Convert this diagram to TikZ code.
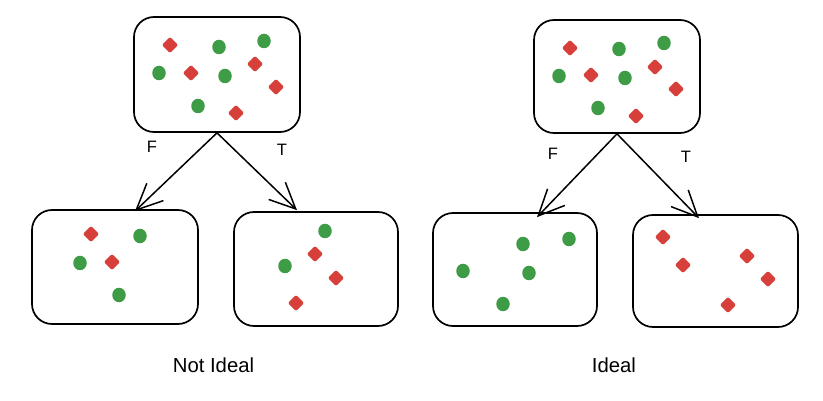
\documentclass[tikz,border=0pt]{standalone}
\usepackage{fontspec}
\setmainfont{Liberation Sans}
\usetikzlibrary{arrows.meta,shapes.geometric}
\definecolor{dotgreen}{HTML}{3F9C46}
\definecolor{dotred}{HTML}{D7403A}
\tikzset{
  box/.style={draw=black, line width=1.7pt, rounded corners=20pt, rectangle, fill=white},
  gdot/.style={ellipse, fill=dotgreen, minimum width=13.5pt, minimum height=14.5pt, inner sep=0pt},
  rdot/.style={diamond, fill=dotred, minimum width=16.5pt, minimum height=16.5pt, inner sep=0pt, rounded corners=1.5pt},
  conn/.style={line width=1.5pt, -{Straight Barb[length=26pt,width=24pt,line width=1.5pt]}},
  lbl/.style={font=\fontsize{16.5}{19}\selectfont, inner sep=0pt},
  captiontext/.style={font=\fontsize{20.3}{24}\selectfont, inner sep=0pt}
}
\begin{document}
\begin{tikzpicture}[x=1pt,y=-1pt]
\useasboundingbox (0,0) rectangle (823,401);
% ---------------- left tree ----------------
\node[box, minimum width=166pt, minimum height=115pt] (ta) at (217,74.5) {};
\node[box, minimum width=166pt, minimum height=114pt] (tal) at (115,267) {};
\node[box, minimum width=164pt, minimum height=114pt] (tar) at (316,269) {};
\draw[conn] (ta.south) -- ([xshift=20pt,yshift=-2pt]tal.north);
\draw[conn] (ta.south) -- ([xshift=-19pt,yshift=1pt]tar.north);
\node[lbl] (fa) at (152,147) {F};
\node[lbl] (tla) at (282,150) {T};
% dots top-left
\node[rdot] (a1) at (170,45) {};
\node[gdot] (a2) at (219,47) {};
\node[gdot] (a3) at (264,41) {};
\node[gdot] (a4) at (159,73) {};
\node[rdot] (a5) at (191,73) {};
\node[gdot] (a6) at (225,76) {};
\node[rdot] (a7) at (255,64) {};
\node[rdot] (a8) at (276,87) {};
\node[gdot] (a9) at (198,106) {};
\node[rdot] (a10) at (236,113) {};
% bottom-left of left tree
\node[rdot] (b1) at (91,234) {};
\node[gdot] (b2) at (140,236) {};
\node[gdot] (b3) at (80,263) {};
\node[rdot] (b4) at (112,262) {};
\node[gdot] (b5) at (119,295) {};
% bottom-right of left tree
\node[gdot] (c1) at (325,231) {};
\node[rdot] (c2) at (315,254) {};
\node[gdot] (c3) at (285,266) {};
\node[rdot] (c4) at (336,278) {};
\node[rdot] (c5) at (296,303) {};
\node[captiontext] (notideal) at (213.5,365) {Not Ideal};
% ---------------- right tree ----------------
\node[box, minimum width=166pt, minimum height=113pt] (tb) at (617,76.5) {};
\node[box, minimum width=164pt, minimum height=113pt] (tbl) at (515,269.5) {};
\node[box, minimum width=165pt, minimum height=112pt] (tbr) at (715.5,271) {};
\draw[conn] (tb.south) -- ([xshift=22pt,yshift=-5pt]tbl.north);
\draw[conn] (tb.south) -- ([xshift=-16.5pt,yshift=-4pt]tbr.north);
\node[lbl] (fb) at (553,154) {F};
\node[lbl] (tlb) at (686,157) {T};
% dots top-right
\node[rdot] (d1) at (570,48) {};
\node[gdot] (d2) at (619,49) {};
\node[gdot] (d3) at (664,43) {};
\node[gdot] (d4) at (559,76) {};
\node[rdot] (d5) at (591,75) {};
\node[gdot] (d6) at (625,78) {};
\node[rdot] (d7) at (655,67) {};
\node[rdot] (d8) at (676,89) {};
\node[gdot] (d9) at (598,108) {};
\node[rdot] (d10) at (636,116) {};
% bottom-left of right tree
\node[gdot] (e1) at (523,244) {};
\node[gdot] (e2) at (569,239) {};
\node[gdot] (e3) at (463,271) {};
\node[gdot] (e4) at (529,273) {};
\node[gdot] (e5) at (503,304) {};
% bottom-right of right tree
\node[rdot] (f1) at (663,237) {};
\node[rdot] (f2) at (683,265) {};
\node[rdot] (f3) at (747,256) {};
\node[rdot] (f4) at (768,279) {};
\node[rdot] (f5) at (728,305) {};
\node[captiontext] (ideal) at (614,365) {Ideal};
\end{tikzpicture}
\end{document}
